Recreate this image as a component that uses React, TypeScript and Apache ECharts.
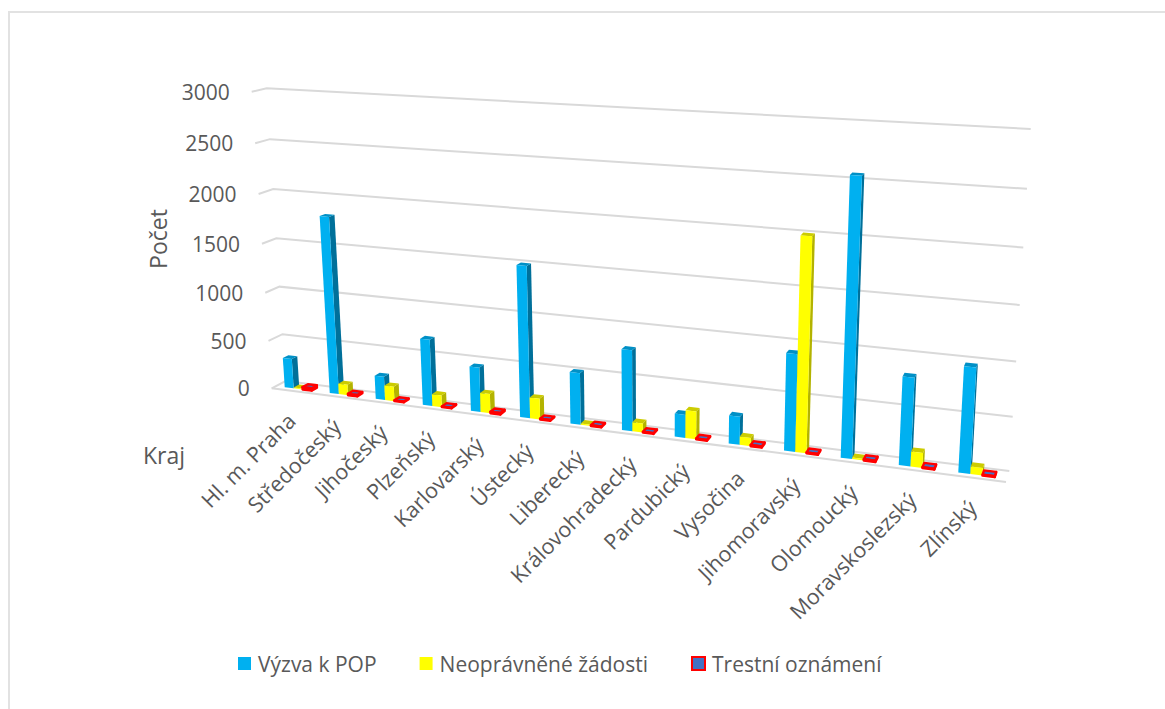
import React, { useEffect, useRef } from "react";
import * as echarts from "echarts";

const categories = ["Hl. m. Praha", "Středočeský", "Jihočeský", "Plzeňský", "Karlovarský", "Ústecký", "Liberecký", "Královohradecký", "Pardubický", "Vysočina", "Jihomoravský", "Olomoucký", "Moravskoslezský", "Zlínský"];
const yTicks = [0, 500, 1000, 1500, 2000, 2500, 3000];
const vyzva = [310, 1810, 240, 675, 450, 1500, 510, 790, 225, 270, 920, 2560, 820, 970];
const neopravnene = [10, 110, 150, 120, 195, 210, 12, 90, 270, 80, 2000, 15, 140, 70];
const trestni = [25, 15, 8, 8, 15, 8, 8, 8, 8, 12, 8, 12, 8, 8];

const TEXT = "#595959";
const FONT = "'Open Sans'";
type P = [number, number];

function quad(p0: P, p1: P, p2: P, p3: P) {
  const dx1 = p1[0] - p2[0], dx2 = p3[0] - p2[0], sx = p0[0] - p1[0] + p2[0] - p3[0];
  const dy1 = p1[1] - p2[1], dy2 = p3[1] - p2[1], sy = p0[1] - p1[1] + p2[1] - p3[1];
  const den = dx1 * dy2 - dx2 * dy1;
  const g = (sx * dy2 - dx2 * sy) / den, h = (dx1 * sy - sx * dy1) / den;
  const a = p1[0] - p0[0] + g * p1[0], b = p3[0] - p0[0] + h * p3[0], c = p0[0];
  const d = p1[1] - p0[1] + g * p1[1], e = p3[1] - p0[1] + h * p3[1], f = p0[1];
  return (u: number, v: number): P => {
    const w = g * u + h * v + 1;
    return [(a * u + b * v + c) / w, (d * u + e * v + f) / w];
  };
}
const front = quad([271.7, 388.3], [1006, 482], [1027.6, 135], [251.7, 91.7]);
const back = quad([285.5, 381], [1009.3, 471], [1030.7, 129], [266.7, 88.3]);
function project(u: number, v: number, d: number): P {
  const a = front(u, v), b = back(u, v);
  return [a[0] + (b[0] - a[0]) * d, a[1] + (b[1] - a[1]) * d];
}

const BAR = 0.2, D0 = 0.3, D1 = 0.7;

function uv(params: any, api: any, cat: number, value: number, off: number): [number, number] {
  const cs = params.coordSys;
  const pt = api.coord([cat, value]);
  const band = api.size([1, 0])[0];
  return [(pt[0] + off * band - cs.x) / cs.width, (cs.y + cs.height - pt[1]) / cs.height];
}

function barSeries(name: string, values: number[], slot: number, faceC: string, sideC: string, topC: string, stroke?: string) {
  return {
    name,
    type: "custom",
    coordinateSystem: "cartesian2d",
    clip: false,
    silent: true,
    itemStyle: { color: faceC, borderColor: stroke || faceC, borderWidth: stroke ? 2 : 0 },
    encode: { x: 0, y: 1 },
    data: values.map((v, i) => [i, v]),
    renderItem(params: any, api: any) {
      const cat = api.value(0), val = api.value(1);
      const l = -0.5 + 0.2 + slot * BAR, r = l + BAR;
      const [u0, v0] = uv(params, api, cat, 0, l);
      const [u1, v1] = uv(params, api, cat, val, r);
      const fbl = project(u0, v0, D0), fbr = project(u1, v0, D0), ftl = project(u0, v1, D0), ftr = project(u1, v1, D0);
      const bbr = project(u1, v0, D1), btl = project(u0, v1, D1), btr = project(u1, v1, D1);
      const st = (fill: string) => stroke ? { fill, stroke, lineWidth: 2.4, lineJoin: "round" } : { fill };
      return {
        type: "group",
        children: [
          { type: "polygon", shape: { points: [fbr, bbr, btr, ftr] }, style: st(sideC) },
          { type: "polygon", shape: { points: [ftl, ftr, btr, btl] }, style: st(topC) },
          { type: "polygon", shape: { points: [fbl, fbr, ftr, ftl] }, style: st(faceC) },
        ],
      };
    },
  };
}

export default function App() {
  const ref = useRef<HTMLDivElement>(null);
  useEffect(() => {
    document.body.style.margin = "0";
    const chart = echarts.init(ref.current!, undefined, { renderer: "svg" });
    const gridSeries = {
      type: "custom",
      coordinateSystem: "cartesian2d",
      clip: false,
      silent: true,
      encode: { x: 0, y: 1 },
      data: yTicks.map((t) => [0, t]),
      z: 1,
      renderItem(params: any, api: any) {
        const val = api.value(1);
        const [, v] = uv(params, api, 0, val, 0);
        const line = { stroke: "#d9d9d9", lineWidth: 2, fill: "none" };
        const children: any[] = [
          { type: "polyline", shape: { points: [project(0, v, 0), project(0, v, 1), project(1, v, 1)] }, style: line },
        ];
        if (val === 0) children.push({ type: "polyline", shape: { points: [project(0, 0, 0), project(1, 0, 0)] }, style: line });
        const p = project(0, v, 0);
        children.push({
          type: "text", x: p[0] - 22, y: p[1],
          style: { text: String(val), align: "right", verticalAlign: "middle", fontSize: 21, fontFamily: FONT, fill: TEXT },
        });
        return { type: "group", children };
      },
    };
    const catSeries = {
      type: "custom",
      coordinateSystem: "cartesian2d",
      clip: false,
      silent: true,
      encode: { x: 0, y: 1 },
      data: categories.map((_, i) => [i, 0]),
      z: 3,
      renderItem(params: any, api: any) {
        const cat = api.value(0);
        const [u, v] = uv(params, api, cat, 0, 0);
        const p = project(u, v, 0);
        return {
          type: "text", x: p[0] - 3, y: p[1] + 25.5, rotation: Math.PI / 4,
          style: { text: categories[cat], align: "right", verticalAlign: "middle", fontSize: 21.5, fontFamily: FONT, fill: TEXT },
        };
      },
    };
    chart.setOption({
      animation: false,
      backgroundColor: "#ffffff",
      grid: { left: 100, right: 100, top: 100, bottom: 100 },
      xAxis: { type: "category", data: categories, show: false },
      yAxis: { type: "value", min: 0, max: 3000, interval: 500, show: false },
      legend: {
        left: 233, top: 648, icon: "rect", itemWidth: 13, itemHeight: 13, itemGap: 43,
        selectedMode: false,
        textStyle: { fontSize: 21, fontFamily: FONT, color: TEXT, padding: [0, 0, 0, 2] },
        data: ["Výzva k POP", "Neoprávněné žádosti", "Trestní oznámení"],
      },
      graphic: [
        { type: "rect", shape: { x: 9, y: 12, width: 1400, height: 1000 }, style: { fill: "none", stroke: "#e2e2e2", lineWidth: 2 }, z: 0, silent: true },
        { type: "text", x: 158, y: 239, rotation: Math.PI / 2, style: { text: "Počet", align: "center", verticalAlign: "middle", fontSize: 23, fontFamily: FONT, fill: TEXT } },
        { type: "text", x: 143, y: 455, style: { text: "Kraj", align: "left", verticalAlign: "middle", fontSize: 23, fontFamily: FONT, fill: TEXT } },
      ],
      series: [
        gridSeries,
        catSeries,
        barSeries("Výzva k POP", vyzva, 0, "#00B0F0", "#00709A", "#0090C6"),
        barSeries("Neoprávněné žádosti", neopravnene, 1, "#FFFF00", "#B3B300", "#CCCC00"),
        barSeries("Trestní oznámení", trestni, 2, "#4472C4", "#4472C4", "#4472C4", "#FF0000"),
      ],
    });
    return () => chart.dispose();
  }, []);
  return <div ref={ref} style={{ width: 1165, height: 709 }} />;
}
